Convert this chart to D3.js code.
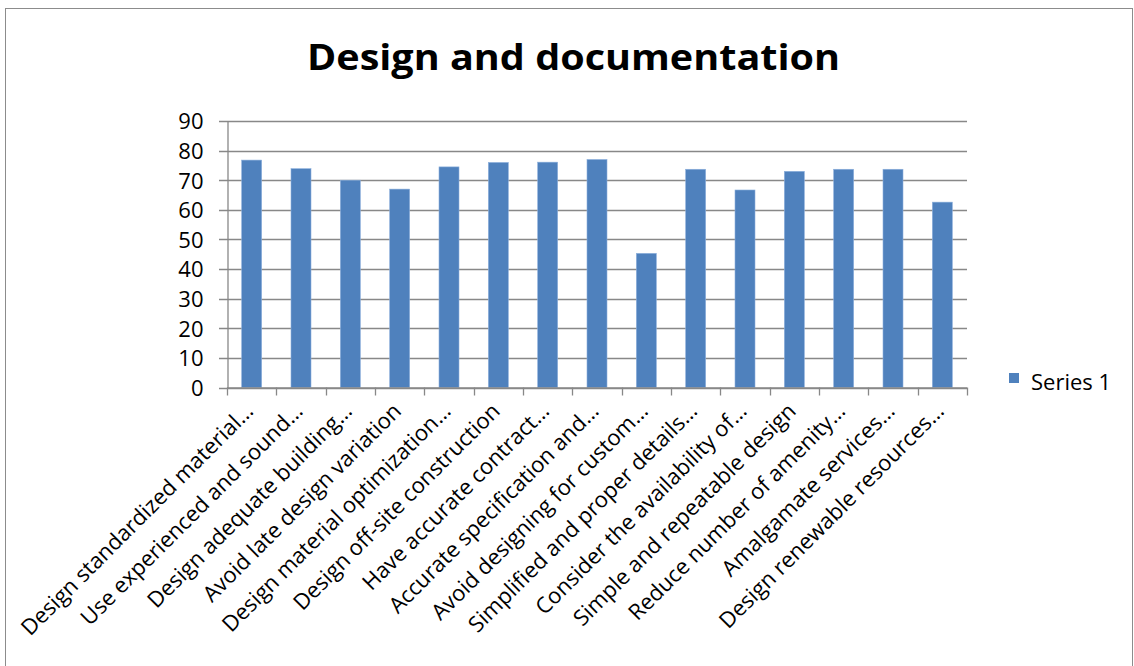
<!DOCTYPE html>
<html><head><meta charset="utf-8">
<script src="https://cdn.jsdelivr.net/npm/d3@7"></script>
<style>body{margin:0;background:#fff}svg{display:block}text{font-family:"Open Sans",sans-serif}</style>
</head><body>
<svg id="c" width="1134" height="666"></svg>
<script>
const title = "Design and documentation";
const seriesName = "Series 1";
const categories = [
  "Design standardized material…",
  "Use experienced and sound…",
  "Design adequate building…",
  "Avoid late design variation",
  "Design material optimization…",
  "Design off-site construction",
  "Have accurate contract…",
  "Accurate specification and…",
  "Avoid designing for custom…",
  "Simplified and proper details…",
  "Consider the availability of…",
  "Simple and repeatable design",
  "Reduce number of amenity…",
  "Amalgamate services…",
  "Design renewable resources…"
];
const values = [76.8, 73.9, 70.0, 67.0, 74.5, 76.0, 76.1, 77.0, 45.3, 73.7, 66.7, 73.0, 73.7, 73.7, 62.6];
const yTicks = [0,10,20,30,40,50,60,70,80,90];

const svg = d3.select("#c");
const L = 227, R = 967, T = 121, B = 387.5;
const xb = d3.scaleBand().domain(categories).range([L, R]);
const y = d3.scaleLinear().domain([0, 90]).range([B, T]);

// outer border
svg.append("rect").attr("x",5.5).attr("y",8.5).attr("width",1127).attr("height",700)
  .attr("fill","none").attr("stroke","#8c8c8c").attr("stroke-width",1);

// title
const tt = svg.append("text").attr("x",573.5).attr("y",70).attr("text-anchor","middle")
  .attr("font-size",35).attr("font-weight","bold").attr("fill","#000").text(title);
tt.attr("textLength",533).attr("lengthAdjust","spacingAndGlyphs");

// gridlines
svg.append("g").selectAll("line").data(yTicks).join("line")
  .attr("x1",L-8).attr("x2",R).attr("y1",d=>Math.round(y(d))+0.5).attr("y2",d=>Math.round(y(d))+0.5)
  .attr("stroke","#888").attr("stroke-width",1.3);

// y axis
const ya = svg.append("g").attr("transform",`translate(${L+0.5},0)`)
  .call(d3.axisLeft(y).tickValues(yTicks).tickSize(0).tickPadding(24));
ya.select(".domain").attr("stroke","#888").attr("stroke-width",1.3);
ya.selectAll("text").attr("font-size",22).attr("fill","#000").attr("font-family","'Open Sans',sans-serif").attr("dy","0.36em");

// bars
svg.append("g").selectAll("rect").data(values).join("rect")
  .attr("x",(d,i)=>xb(categories[i]) + xb.bandwidth()/2 - 10)
  .attr("width",20)
  .attr("y",d=>y(d)).attr("height",d=>B-y(d))
  .attr("fill","#4F81BD").attr("stroke","#8db0dc").attr("stroke-width",0.6);

// x axis
const xa = svg.append("g").attr("transform",`translate(0,${B})`);
xa.append("line").attr("x1",L).attr("x2",R).attr("y1",0.5).attr("y2",0.5).attr("stroke","#888").attr("stroke-width",1.3);
const bounds = categories.map(c=>xb(c)).concat([R]);
xa.selectAll("line.t").data(bounds).join("line").attr("class","t")
  .attr("x1",d=>Math.round(d)+0.5).attr("x2",d=>Math.round(d)+0.5).attr("y1",0).attr("y2",8)
  .attr("stroke","#888").attr("stroke-width",1.3);
xa.selectAll("text").data(categories).join("text")
  .attr("transform",c=>`translate(${xb(c)+xb.bandwidth()/2+3},${25}) rotate(-45)`)
  .attr("text-anchor","end").attr("font-size",22).attr("fill","#000").text(c=>c);

// legend
svg.append("rect").attr("x",1009).attr("y",373).attr("width",10).attr("height",10).attr("fill","#4F81BD");
svg.append("text").attr("x",1031).attr("y",390).attr("font-size",22).attr("fill","#000").text(seriesName);
</script>
</body></html>
